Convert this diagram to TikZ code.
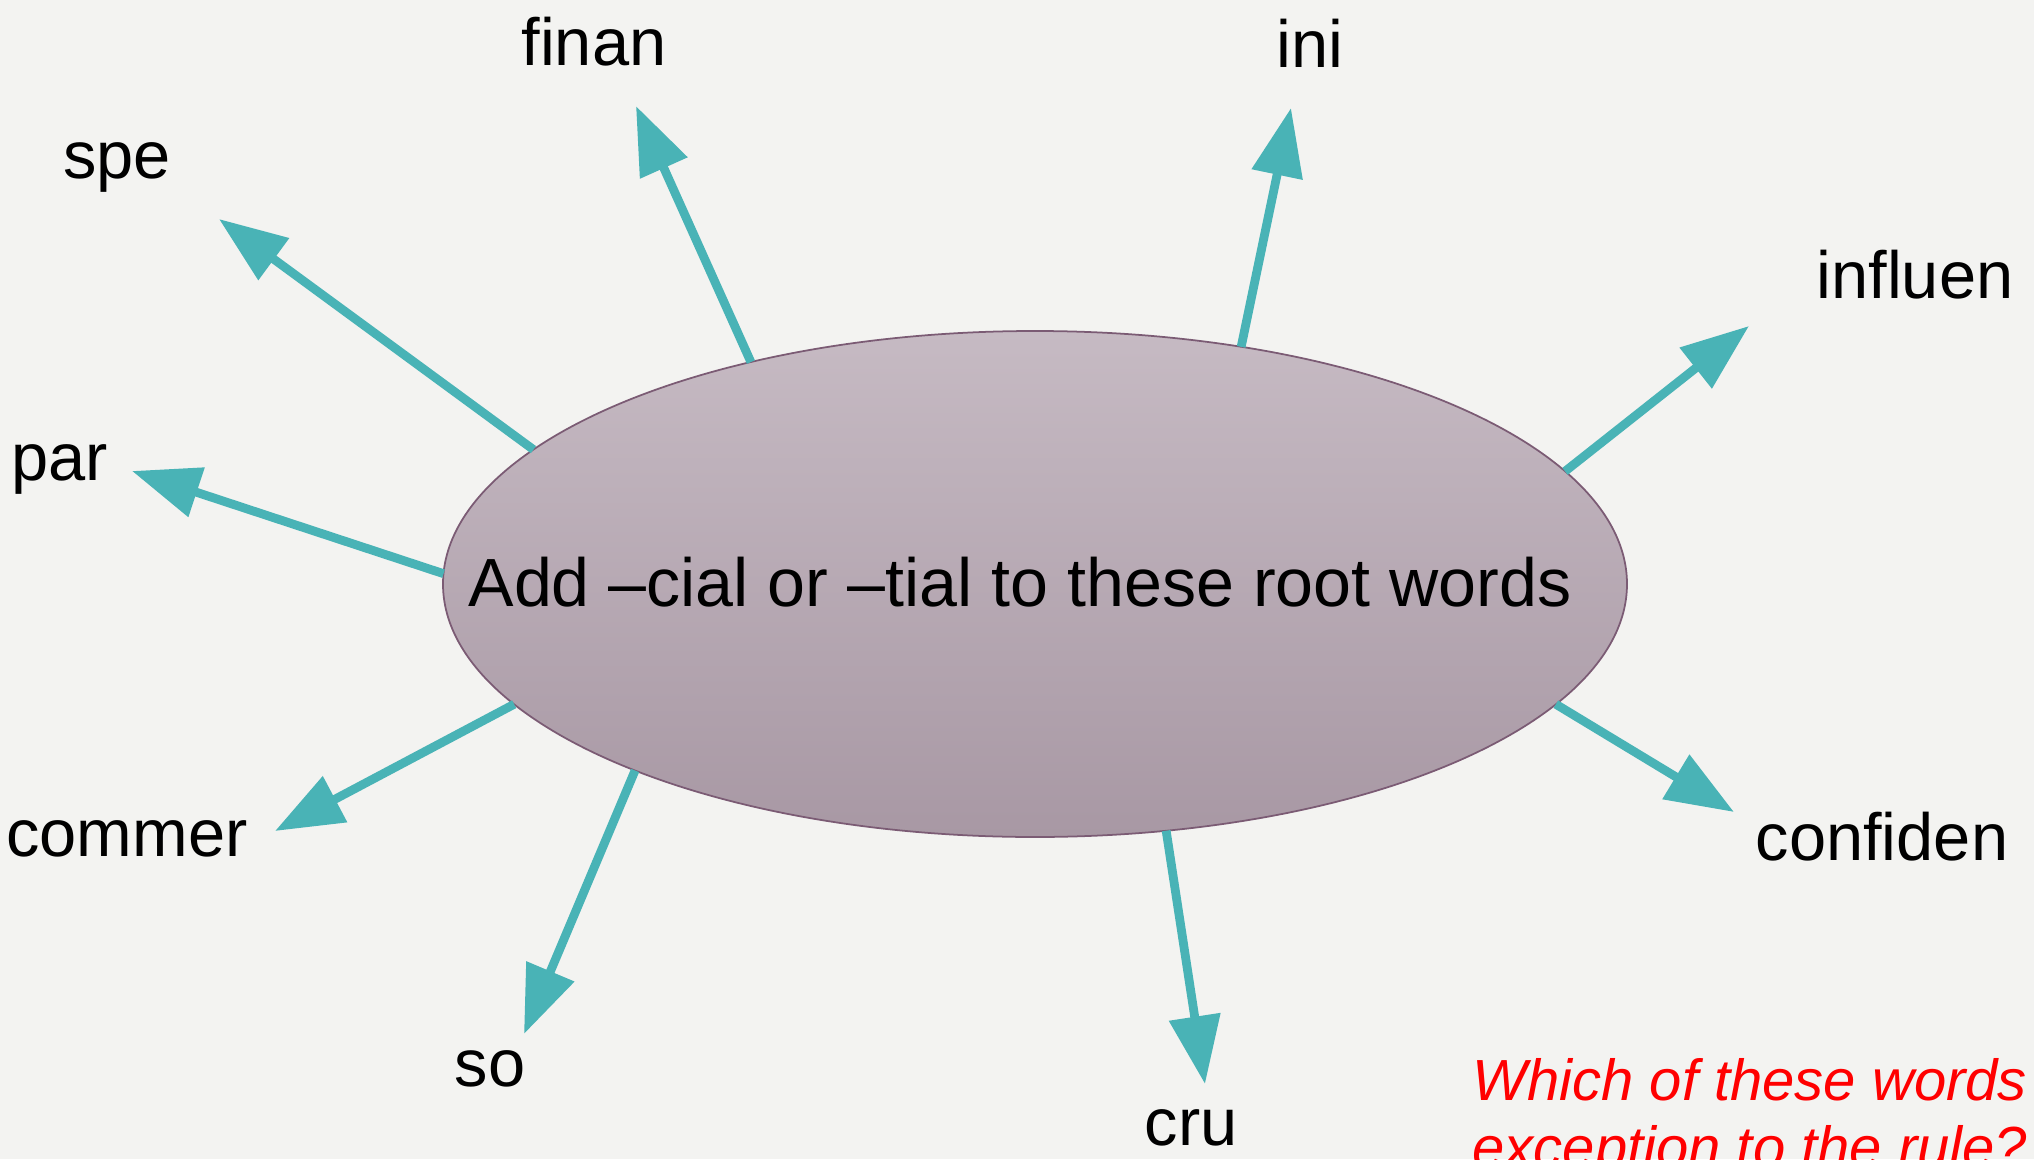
\documentclass[tikz,border=0pt]{standalone}
\usepackage{fontspec}
\setmainfont{Liberation Sans}
\usetikzlibrary{arrows.meta,shapes.geometric}

\definecolor{bgcolor}{RGB}{243,243,241}
\definecolor{arrowteal}{RGB}{73,179,182}
\definecolor{elltop}{RGB}{198,186,195}
\definecolor{ellbottom}{RGB}{168,152,164}
\definecolor{ellborder}{RGB}{123,91,116}

\begin{document}
\begin{tikzpicture}[
            root node/.style={ellipse,draw=ellborder,line width=0.5pt,top color=elltop,bottom color=ellbottom,minimum width=11.84cm,minimum height=5.06cm,inner sep=0pt,outer sep=0pt},
            word node/.style={anchor=base,inner sep=0pt,text=black,font=\fontsize{19}{23}\selectfont},
            question node/.style={anchor=base west,inner sep=0pt,text=red,font=\fontsize{16.5}{19}\selectfont\itshape},
            spoke/.style={draw=arrowteal,line width=2.5pt,-{Triangle[length=0.68cm,width=0.5cm]}},
            ]

            \fill[bgcolor] (0,0) rectangle (20.34,11.59);
            \useasboundingbox (0,0) rectangle (20.34,11.59);

            \node[root node] (root) at (10.35,5.75) {};
            \node[word node, font=\fontsize{19.4}{23}\selectfont] (title) at (10.20,5.53) {Add –cial or –tial to these root words};

            % root words round the ellipse
            \node[word node] (spe) at (1.17,9.81) {spe};
            \node[word node] (finan) at (5.94,10.94) {finan};
            \node[word node] (ini) at (13.10,10.92) {ini};
            \node[word node] (influen) at (19.15,8.61) {influen};
            \node[word node] (par) at (0.60,6.79) {par};
            \node[word node] (commer) at (1.27,3.03) {commer};
            \node[word node] (so) at (4.90,0.73) {so};
            \node[word node] (cru) at (11.91,0.14) {cru};
            \node[word node] (confiden) at (18.82,2.99) {confiden};

            % arrow tips
            \coordinate (spe tip) at (2.19,9.40);
            \coordinate (finan tip) at (6.36,10.53);
            \coordinate (ini tip) at (12.91,10.51);
            \coordinate (influen tip) at (17.49,8.33);
            \coordinate (par tip) at (1.32,6.88);
            \coordinate (commer tip) at (2.75,3.28);
            \coordinate (so tip) at (5.24,1.25);
            \coordinate (cru tip) at (12.05,0.75);
            \coordinate (confiden tip) at (17.34,3.47);

            \draw[spoke] (root.165.6) -- (spe tip);
            \draw[spoke] (root.142.2) -- (finan tip);
            \draw[spoke] (root.49.7) -- (ini tip);
            \draw[spoke] (root.12.6) -- (influen tip);
            \draw[spoke] (root.179.5) -- (par tip);
            \draw[spoke] (root.193.4) -- (commer tip);
            \draw[spoke] (root.205.1) -- (so tip);
            \draw[spoke] (root.298.2) -- (cru tip);
            \draw[spoke] (root.347) -- (confiden tip);

            \node[question node] (question a) at (14.72,0.59) {Which of these words};
            \node[question node] (question b) at (14.72,-0.08) {exception to the rule?};
        \end{tikzpicture}
\end{document}
